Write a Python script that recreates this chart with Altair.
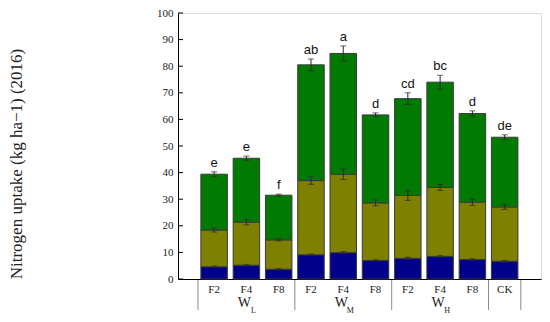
import altair as alt
import pandas as pd

groups = ["WL", "WL", "WL", "WM", "WM", "WM", "WH", "WH", "WH", "CK"]
treatments = ["F2", "F4", "F8", "F2", "F4", "F8", "F2", "F4", "F8", "CK"]
letters = ["e", "e", "f", "ab", "a", "d", "cd", "bc", "d", "de"]

blue = [4.6, 5.2, 3.7, 9.1, 9.9, 7.0, 7.8, 8.5, 7.3, 6.7]
olive = [13.8, 16.2, 11.0, 27.9, 29.5, 21.6, 23.6, 25.9, 21.6, 20.4]
green = [21.0, 24.0, 16.8, 43.5, 45.4, 33.1, 36.4, 39.6, 33.3, 26.2]

err_blue = [0.3, 0.3, 0.2, 0.3, 0.4, 0.2, 0.4, 0.3, 0.3, 0.3]
err_olive = [0.75, 1.0, 0.4, 1.4, 2.0, 1.1, 1.85, 1.1, 1.2, 0.9]
err_green = [0.9, 0.8, 0.4, 2.2, 2.8, 0.75, 2.2, 2.6, 1.0, 0.9]

y_ticks = [0, 10, 20, 30, 40, 50, 60, 70, 80, 90, 100]
group_labels = {"WL": ("W", "L"), "WM": ("W", "M"), "WH": ("W", "H")}

parts = ["blue", "olive", "green"]
colors = ["#00008B", "#808000", "#007A00"]

rows = []
err_rows = []
for i in range(len(treatments)):
    cum = 0.0
    for k, (vals, errs) in enumerate([(blue, err_blue), (olive, err_olive), (green, err_green)]):
        v = vals[i]
        cum += v
        rows.append({"pos": i, "part": parts[k], "k": k, "v": v})
        err_rows.append({"pos": i, "top": cum, "lo": cum - errs[i], "hi": cum + errs[i]})
bars_df = pd.DataFrame(rows)
err_df = pd.DataFrame(err_rows)

tot_df = pd.DataFrame({
    "pos": list(range(len(treatments))),
    "hi": [b + o + g + e for b, o, g, e in zip(blue, olive, green, err_green)],
    "letter": letters,
    "treat": treatments,
})

# group separators and group centres
seps = [-0.5]
for i in range(1, len(groups)):
    if groups[i] != groups[i - 1]:
        seps.append(i - 0.5)
seps.append(len(groups) - 0.5)
sep_df = pd.DataFrame({"pos": seps})

gl_rows = []
for g, (main, sub) in group_labels.items():
    idx = [i for i, gg in enumerate(groups) if gg == g]
    gl_rows.append({"pos": sum(idx) / len(idx), "main": main, "sub": sub})
gl_df = pd.DataFrame(gl_rows)

W, H = 363, 266
xscale = alt.Scale(domain=[-0.964, 9.97], nice=False, zero=False)
yscale = alt.Scale(domain=[0, 100], nice=False)

serif = "Liberation Serif"
sans = "Liberation Sans"


def qx():
    return alt.X("pos:Q", scale=xscale, title=None)


def qy(field, **kw):
    return alt.Y(field, scale=yscale, title=None, **kw)


bars = alt.Chart(bars_df).mark_bar(size=26.5, stroke="#3a3a3a", strokeWidth=1).encode(
    x=qx(),
    y=qy("v:Q", stack="zero"),
    color=alt.Color("part:N", scale=alt.Scale(domain=parts, range=colors), legend=None),
    order=alt.Order("k:Q", sort="ascending"),
)

ytick = alt.Chart(pd.DataFrame({"t": y_ticks})).mark_rule(color="#000000", strokeWidth=1).encode(
    y=qy("t:Q"),
    x=alt.value(0),
    x2=alt.value(5),
)

whisk = alt.Chart(err_df).mark_rule(color="#2a2a2a", strokeWidth=1).encode(
    x=qx(),
    y=qy("lo:Q"),
    y2="hi:Q",
)
cap_hi = alt.Chart(err_df).mark_tick(orient="horizontal", size=6, thickness=1, color="#2a2a2a").encode(
    x=qx(),
    y=qy("hi:Q"),
)
cap_lo = alt.Chart(err_df).mark_tick(orient="horizontal", size=6, thickness=1, color="#2a2a2a").encode(
    x=qx(),
    y=qy("lo:Q"),
)

letter_txt = alt.Chart(tot_df).mark_text(font=sans, fontSize=13, baseline="bottom", dy=-2,
                                         color="#111111").encode(
    x=qx(),
    y=qy("hi:Q"),
    text="letter:N",
)

treat_txt = alt.Chart(tot_df).mark_text(font=serif, fontSize=11, baseline="middle",
                                        color="#222222").encode(
    x=qx(),
    y=alt.value(277),
    text="treat:N",
)

sep_rule = alt.Chart(sep_df).mark_rule(color="#8a8a8a", strokeWidth=1).encode(
    x=qx(),
    y=alt.value(267),
    y2=alt.value(297),
)

g_main = alt.Chart(gl_df).mark_text(font=serif, fontSize=14, baseline="middle", dx=-2,
                                    color="#222222").encode(
    x=qx(),
    y=alt.value(290),
    text="main:N",
)
g_sub = alt.Chart(gl_df).mark_text(font=serif, fontSize=8, baseline="middle", dx=7,
                                   color="#222222").encode(
    x=qx(),
    y=alt.value(298),
    text="sub:N",
)

ytitle = alt.Chart(pd.DataFrame({"t": ["Nitrogen uptake (kg ha\u22121) (2016)"]})).mark_text(
    font=serif, fontSize=17, angle=270, baseline="middle", align="center", color="#222222"
).encode(
    x=alt.value(-161),
    y=alt.value(151),
    text="t:N",
)

chart = alt.layer(
    bars, whisk, cap_hi, cap_lo, ytick, letter_txt, treat_txt, sep_rule, g_main, g_sub, ytitle
).properties(
    width=W, height=H,
    autosize=alt.AutoSizeParams(type="none"),
    padding={"left": 170, "top": 5, "right": 1, "bottom": 40},
).configure_view(
    stroke=None
).configure(
    background="white"
).configure_axis(
    grid=False, domainColor="#000000", domainWidth=1, ticks=False
).configure_axisX(
    labels=False
).configure_axisY(
    tickCount=11, labelPadding=5, labelOverlap=False, labelFlush=False,
    labelFont=serif, labelFontSize=11, labelColor="#222222"
)

chart.save("out.html", embed_options={"renderer": "svg", "actions": False})
